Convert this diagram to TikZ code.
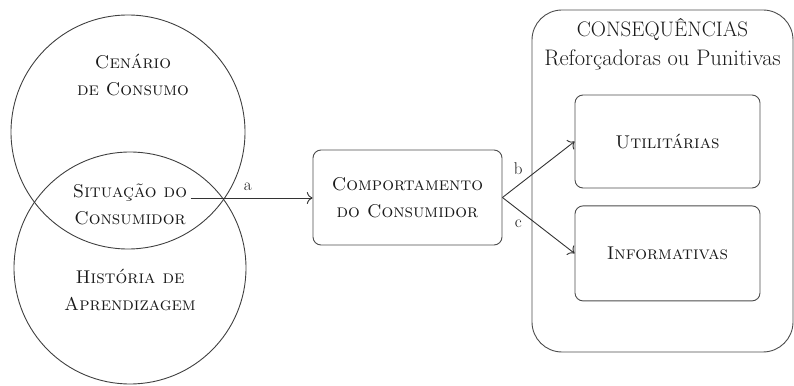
\documentclass[tikz,border=0pt]{standalone}
\usetikzlibrary{positioning,arrows.meta}

\begin{document}
\begin{tikzpicture}
[x=1pt,y=1pt,>={To[scale=1.6]},
circulo/.style={draw=black!75,line width=0.9pt,circle,inner sep=0pt},
rotulo/.style={align=center,text=black!90,font=\fontsize{18.5}{27}\selectfont\scshape},
caixa/.style={draw=black!70,line width=0.9pt,rounded corners=8pt,rotulo},
seta/.style={->,draw=black!80,line width=0.9pt},
letra/.style={font=\fontsize{17}{20}\selectfont,text=black!90}]
\useasboundingbox (0,0) rectangle (794,385);
\node[circulo,minimum size=234pt](cenario) at (128,253){};
\node[circulo,minimum size=232pt](historia) at (130,117){};
\node[rotulo](cenariotxt) at (133,310){Cenário\\de Consumo};
\node[rotulo](situacao) at (130,181){Situação do\\Consumidor};
\node[rotulo](historiatxt) at (130,95){História de\\Aprendizagem};
\node[caixa,minimum width=189pt,minimum height=95pt](comportamento) at (407.5,187.5){Comportamento\\do Consumidor};
\node[draw=black!70,line width=0.9pt,rounded corners=30pt,minimum width=261pt,minimum height=342pt](consequencias) at (662.5,204){};
\node[below=5pt of consequencias.north,align=center,text=black!90,font=\fontsize{21}{29}\selectfont](titulo){CONSEQUÊNCIAS\\{\fontsize{22.5}{29}\selectfont Reforçadoras ou Punitivas}};
\node[caixa,minimum width=185pt,minimum height=93pt](utilitarias) at (667.5,243.5){Utilitárias};
\node[caixa,minimum width=185pt,minimum height=95pt,below=17pt of utilitarias](informativas){Informativas};
\draw[seta] (situacao.east |- 0,187) -- node[letra,pos=0.47,above=4pt]{a} (comportamento.west |- 0,187);
\draw[seta] (comportamento.east) -- node[letra,pos=0.22,above=7pt]{b} (utilitarias.west);
\draw[seta] (comportamento.east) -- node[letra,pos=0.22,below=6pt]{c} (informativas.west);
\end{tikzpicture}
\end{document}
